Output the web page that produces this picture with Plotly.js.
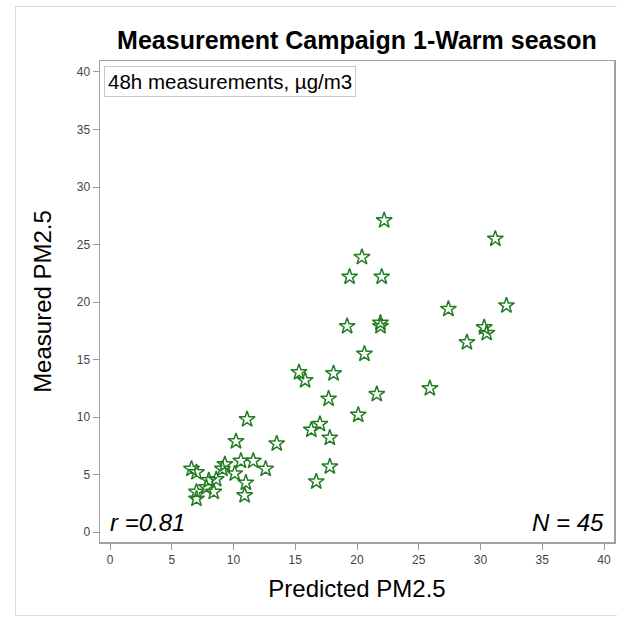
<!DOCTYPE html>
<html>
<head>
<meta charset="utf-8">
<script src="https://cdn.plot.ly/plotly-3.0.1.min.js"></script>
<style>
  html, body { margin: 0; padding: 0; background: #fff; }
  #wrap { position: relative; width: 617px; height: 620px; overflow: hidden; }
  #chart { width: 617px; height: 620px; }
  #frame { position: absolute; left: 15px; top: 6px; width: 700px; height: 608px;
           border: 1px solid #dcdcdc; pointer-events: none; }
</style>
</head>
<body>
<div id="wrap">
  <div id="chart"></div>
  <div id="frame"></div>
</div>
<script>
// Predicted PM2.5 (x) vs Measured PM2.5 (y), 48h measurements, µg/m3
const predicted = [
  22.2, 31.2, 20.4, 19.4, 22.0, 27.4, 32.1, 19.2, 21.9, 21.9,
  30.3, 30.5, 28.9, 20.6, 15.3, 15.8, 18.1, 17.7, 21.6, 25.9,
  20.1, 16.3, 17.0, 17.8, 17.8, 16.7, 13.5, 11.1, 10.2, 6.6,
  7.0, 9.3, 9.1, 10.6, 11.6, 12.6, 10.1, 8.6, 8.0, 7.8,
  7.0, 8.4, 7.0, 11.0, 10.9
];
const measured = [
  27.1, 25.5, 23.9, 22.2, 22.2, 19.4, 19.7, 17.9, 18.2, 17.9,
  17.8, 17.3, 16.5, 15.5, 13.9, 13.2, 13.8, 11.6, 12.0, 12.5,
  10.2, 8.9, 9.4, 8.2, 5.7, 4.4, 7.7, 9.8, 7.9, 5.5,
  5.2, 5.9, 5.5, 6.2, 6.2, 5.5, 5.1, 4.6, 4.5, 3.9,
  3.5, 3.5, 2.9, 4.3, 3.2
];
const tickValues = [0, 5, 10, 15, 20, 25, 30, 35, 40];
const chartTitle = "Measurement Campaign 1-Warm season";
const xTitle = "Predicted PM2.5";
const yTitle = "Measured PM2.5";
const boxNote = "48h measurements, µg/m3";
const rNote = "r =0.81";
const nNote = "N = " + predicted.length;

const tickFont = { family: "Liberation Sans Narrow, Arial Narrow, Liberation Sans, sans-serif", size: 12, color: "#444" };
const mainFont = "Liberation Sans, Arial, sans-serif";

const trace = {
  type: "scatter",
  mode: "markers",
  x: predicted,
  y: measured,
  marker: {
    symbol: "star-open",
    size: 12,
    color: "rgb(34,125,34)",
    line: { width: 1.5, color: "rgb(34,125,34)" }
  },
  hoverinfo: "x+y"
};

const axisCommon = {
  showgrid: false,
  zeroline: false,
  showline: true,
  mirror: true,
  linecolor: "#a0a0a0",
  linewidth: 1.5,
  ticks: "outside",
  ticklen: 6,
  tickwidth: 1,
  tickcolor: "#999",
  tickvals: tickValues,
  ticktext: tickValues.map(String),
  tickfont: tickFont
};

const layout = {
  width: 617,
  height: 620,
  margin: { l: 100, r: 3, t: 61, b: 78 },
  paper_bgcolor: "#fff",
  plot_bgcolor: "#fff",
  showlegend: false,
  title: {
    text: "<b>" + chartTitle + "</b>",
    font: { family: mainFont, size: 25, color: "#000" },
    x: 0.5, xref: "paper", xanchor: "center",
    y: 1 - 40 / 620, yref: "container", yanchor: "middle"
  },
  xaxis: Object.assign({}, axisCommon, {
    range: [-0.81, 40.81],
    title: { text: xTitle, font: { family: mainFont, size: 24, color: "#000" }, standoff: 14 }
  }),
  yaxis: Object.assign({}, axisCommon, {
    range: [-0.85, 40.95],
    title: { text: yTitle, font: { family: mainFont, size: 24, color: "#000" }, standoff: 18 }
  }),
  annotations: [
    {
      xref: "paper", yref: "paper", x: 0.008, y: 0.99, xanchor: "left", yanchor: "top",
      text: boxNote, showarrow: false,
      font: { family: mainFont, size: 20.5, color: "#000" },
      bordercolor: "#c8c8c8", borderwidth: 1, borderpad: 3, bgcolor: "#fff"
    },
    {
      xref: "paper", yref: "paper", x: 0.0156, y: 0.04, xanchor: "left", yanchor: "middle",
      text: "<i>" + rNote + "</i>", showarrow: false,
      font: { family: mainFont, size: 24, color: "#000" }
    },
    {
      xref: "paper", yref: "paper", x: 0.984, y: 0.04, xanchor: "right", yanchor: "middle",
      text: "<i>" + nNote + "</i>", showarrow: false,
      font: { family: mainFont, size: 24, color: "#000" }
    }
  ]
};

Plotly.newPlot("chart", [trace], layout, { displayModeBar: false, staticPlot: true });
</script>
</body>
</html>
